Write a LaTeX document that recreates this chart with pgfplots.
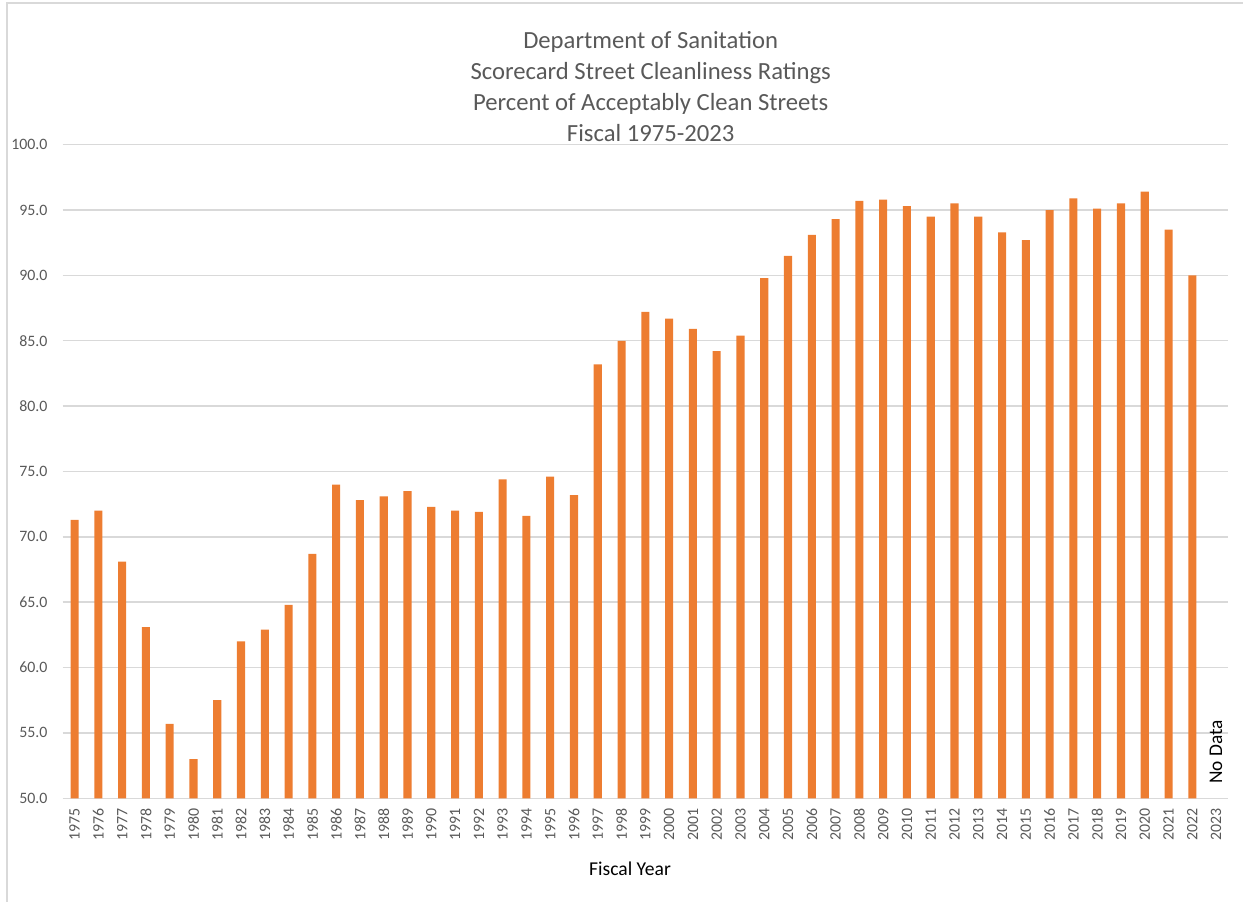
\documentclass[border=0pt]{standalone}
\usepackage{pgfplots}
\pgfplotsset{compat=1.18}
\usepackage{fontspec}
\setmainfont{Carlito}
\definecolor{barorange}{HTML}{ED7D31}
\definecolor{gridgray}{HTML}{D9D9D9}
\definecolor{textgray}{HTML}{595959}
\begin{document}
\begin{tikzpicture}
\useasboundingbox (0,0) rectangle (932.25pt,-676.5pt);
\draw[gridgray, line width=1.5pt] (4.9pt,-676.5pt) -- (4.9pt,-2.25pt) -- (932.25pt,-2.25pt);
% title
\begin{scope}[every node/.style={anchor=base, text=textgray, font=\fontsize{18.5}{22}\selectfont, inner sep=0pt}]
\node at (488pt,-36.2pt) {Department of Sanitation};
\node at (488pt,-59.5pt) {Scorecard Street Cleanliness Ratings};
\node at (488pt,-82.9pt) {Percent of Acceptably Clean Streets};
\node at (488pt,-106.2pt) {Fiscal 1975-2023};
\end{scope}
\node[font=\fontsize{14.7}{17}\selectfont, text=black, inner sep=0pt] at (472.5pt,-651.75pt) {Fiscal Year};
\begin{axis}[
  at={(47.0pt,-598.7pt)}, anchor=south west,
  scale only axis, width=874pt, height=490.2pt,
  ybar, bar width=0.34,
  xmin=1974.5, xmax=2023.5, ymin=50, ymax=100,
  xtick distance=1, ytick distance=5,
  major tick length=0pt,
  axis line style={draw=none},
  ymajorgrids, grid style={gridgray, line width=1.1pt},
  tick label style={text=textgray, font=\fontsize{11.9}{14}\selectfont},
  /pgf/number format/assume math mode=true,
  yticklabel={\pgfmathprintnumber[fixed, fixed zerofill, precision=1]{\tick}},
  xticklabel={\pgfmathprintnumber[1000 sep={}, fixed, precision=0]{\tick}},
  yticklabel style={anchor=east, inner sep=0pt, xshift=-11.2pt},
  xticklabel style={yshift=-7.3pt, rotate=90, anchor=east, inner sep=0pt},
  clip=true,
]
\addplot[fill=barorange, draw=none] coordinates {
(1975,71.3) (1976,72.0) (1977,68.1) (1978,63.1) (1979,55.7) (1980,53.0)
(1981,57.5) (1982,62.0) (1983,62.9) (1984,64.8) (1985,68.7) (1986,74.0)
(1987,72.8) (1988,73.1) (1989,73.5) (1990,72.3) (1991,72.0) (1992,71.9)
(1993,74.4) (1994,71.6) (1995,74.6) (1996,73.2) (1997,83.2) (1998,85.0)
(1999,87.2) (2000,86.7) (2001,85.9) (2002,84.2) (2003,85.4) (2004,89.8)
(2005,91.5) (2006,93.1) (2007,94.3) (2008,95.7) (2009,95.8) (2010,95.3)
(2011,94.5) (2012,95.5) (2013,94.5) (2014,93.3) (2015,92.7) (2016,95.0)
(2017,95.9) (2018,95.1) (2019,95.5) (2020,96.4) (2021,93.5) (2022,90.0)
};
\node[rotate=90, font=\fontsize{14.5}{17}\selectfont, text=black, inner sep=0pt] at (axis cs:2023,53.55) {No Data};
\end{axis}
\end{tikzpicture}
\end{document}
